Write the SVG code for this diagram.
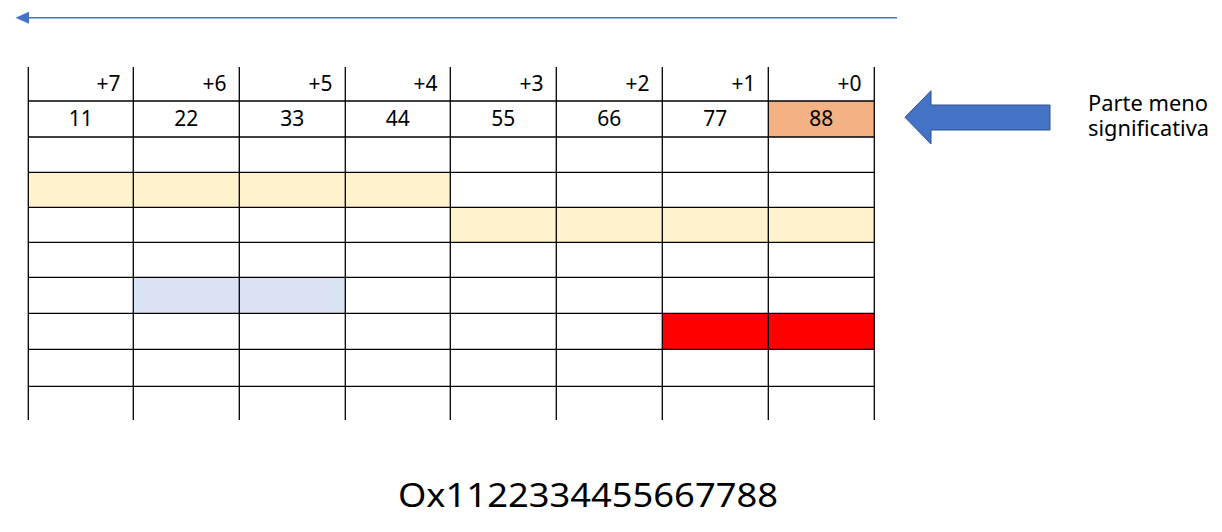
<svg xmlns="http://www.w3.org/2000/svg" width="1222" height="532" viewBox="0 0 1222 532">
<style>
.t{font-family:"Noto Sans","Open Sans",sans-serif;font-size:21px;fill:#000}
.c{text-anchor:middle}
.r{text-anchor:end}
.g line{stroke:#000;stroke-width:1.3}
</style>
<rect width="1222" height="532" fill="#fff"/>
<g id="fills">
<rect x="768.3" y="101" width="106" height="36" fill="#F4B183"/>
<rect x="28.3" y="172.3" width="422" height="35" fill="#FFF2CC"/>
<rect x="450.3" y="207.3" width="424" height="35" fill="#FFF2CC"/>
<rect x="133.3" y="277.3" width="212" height="36" fill="#DAE3F3"/>
<rect x="662.3" y="313.3" width="212" height="36" fill="#FF0000"/>
</g>
<g id="grid" class="g">
<line x1="28.3" y1="67" x2="28.3" y2="420"/>
<line x1="133.3" y1="67" x2="133.3" y2="420"/>
<line x1="239.3" y1="67" x2="239.3" y2="420"/>
<line x1="345.3" y1="67" x2="345.3" y2="420"/>
<line x1="450.3" y1="67" x2="450.3" y2="420"/>
<line x1="556.3" y1="67" x2="556.3" y2="420"/>
<line x1="662.3" y1="67" x2="662.3" y2="420"/>
<line x1="768.3" y1="67" x2="768.3" y2="420"/>
<line x1="874.3" y1="67" x2="874.3" y2="420"/>
<line x1="28.3" y1="101" x2="874.3" y2="101"/>
<line x1="28.3" y1="137" x2="874.3" y2="137"/>
<line x1="28.3" y1="172.3" x2="874.3" y2="172.3"/>
<line x1="28.3" y1="207.3" x2="874.3" y2="207.3"/>
<line x1="28.3" y1="242.3" x2="874.3" y2="242.3"/>
<line x1="28.3" y1="277.3" x2="874.3" y2="277.3"/>
<line x1="28.3" y1="313.3" x2="874.3" y2="313.3"/>
<line x1="28.3" y1="349.3" x2="874.3" y2="349.3"/>
<line x1="28.3" y1="386.3" x2="874.3" y2="386.3"/>
</g>
<g id="offsets">
<text class="t r" x="120.5" y="91">+7</text>
<text class="t r" x="226.5" y="91">+6</text>
<text class="t r" x="332.5" y="91">+5</text>
<text class="t r" x="437.5" y="91">+4</text>
<text class="t r" x="543.5" y="91">+3</text>
<text class="t r" x="649.5" y="91">+2</text>
<text class="t r" x="755.5" y="91">+1</text>
<text class="t r" x="861.5" y="91">+0</text>
</g>
<g id="values">
<text class="t c" x="80.8" y="126">11</text>
<text class="t c" x="186.3" y="126">22</text>
<text class="t c" x="292.3" y="126">33</text>
<text class="t c" x="397.8" y="126">44</text>
<text class="t c" x="503.3" y="126">55</text>
<text class="t c" x="609.3" y="126">66</text>
<text class="t c" x="715.3" y="126">77</text>
<text class="t c" x="821.3" y="126">88</text>
</g>
<g id="connectors">
<line x1="897" y1="17.7" x2="28" y2="17.7" stroke="#4472C4" stroke-width="1.5"/>
<path d="M15.5,17.7 L29,11.7 L29,23.7 Z" fill="#4472C4"/>
</g>
<g id="big-arrow">
<path d="M1050,105 L931,105 L931,90.7 L905,117.3 L931,144 L931,130 L1050,130 Z" fill="#4472C4" stroke="#2F528F" stroke-width="1"/>
</g>
<g id="label">
<text class="t" x="1088" y="110.5" style="font-size:21px" textLength="120" lengthAdjust="spacingAndGlyphs">Parte meno</text>
<text class="t" x="1088" y="136" style="font-size:21px" textLength="121" lengthAdjust="spacingAndGlyphs">significativa</text>
</g>
<g id="value">
<text class="t c" x="588" y="507" style="font-size:33px" textLength="380" lengthAdjust="spacingAndGlyphs">Ox1122334455667788</text>
</g>
</svg>
